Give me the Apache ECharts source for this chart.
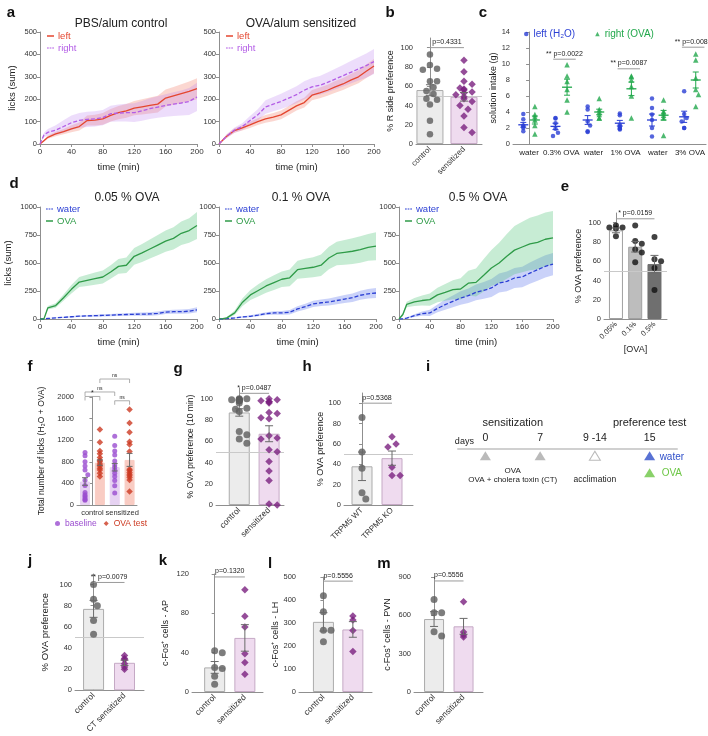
<!DOCTYPE html>
<html><head><meta charset="utf-8">
<script src="https://cdn.jsdelivr.net/npm/echarts@6.0.0/dist/echarts.min.js"></script>
<style>html,body{margin:0;padding:0;background:#fff;}#chart{width:708px;height:736px;}</style>
</head><body><div id="chart"></div>
<script>
// ================= DATA =================
const timePts = [0,5,10,20,30,40,50,60,70,80,90,100,110,120,130,140,150,160,170,180,190,200];
// a: PBS/alum control
const aCtrlLeft     = [0,15,30,45,55,68,78,105,107,112,128,140,148,160,166,172,178,205,215,225,235,247];
const aCtrlLeftSem  = [0,4,7,10,12,16,18,22,24,26,28,30,31,32,34,36,37,38,40,42,44,47];
const aCtrlRight    = [0,40,52,62,78,95,105,110,112,118,135,138,140,140,148,158,165,172,178,183,190,210];
const aCtrlRightSem = [0,10,15,22,28,32,33,34,34,34,36,38,40,42,44,46,48,50,53,56,60,63];
// a: OVA/alum sensitized
const aSensLeft     = [0,18,35,60,72,85,100,112,120,130,150,170,185,218,228,240,255,268,285,300,325,348];
const aSensLeftSem  = [0,4,8,10,12,14,15,17,18,19,20,21,22,23,24,25,26,27,28,29,30,32];
const aSensRight    = [0,18,35,62,78,105,130,165,178,190,205,220,240,255,262,275,290,305,320,335,350,368];
const aSensRightSem = [0,5,8,12,15,20,25,30,32,34,36,38,40,40,42,44,46,48,50,52,54,56];
// b
const bCats = ['control','sensitized'];
const bCtrl = [93,82,78,77,65,65,59,55,52,47,46,41,24,10];
const bSens = [87,75,65,62,58,57,56,54,53,51,49,47,44,40,36,29,17,12];
const bMean = [56,49];
const bSem  = [5.5,4.5];
// c
const cCats = ['water','0.3% OVA','water','1% OVA','water','3% OVA'];
const cLeft = [[3.75,3.1,2.3,2.2,2.0,1.6],[3.25,3.2,2.6,1.9,1.4,1.0],[4.7,4.3,2.8,2.3,1.6,1.5],[3.8,3.6,2.4,2.2,2.0,1.9,1.8],[5.7,4.5,3.7,3.0,2.0,0.95],[6.6,3.75,3.25,2.8,2.0,2.0]];
const cRight = [[4.7,3.7,3.4,3.0,2.3,1.25],[9.9,8.5,7.8,6.8,5.5,4.0],[5.7,4.3,4.0,3.7,3.25,3.25],[8.5,8.4,8.0,7.2,6.0,3.25],[5.5,4.1,3.9,3.6,3.25,1.05],[11.25,10.5,8.25,6.8,6.2,4.7]];
const cLeftMean  = [2.4,2.2,3.0,2.6,3.0,3.4];
const cLeftSem   = [0.3,0.4,0.55,0.35,0.75,0.7];
const cRightMean = [3.0,7.1,4.0,6.9,3.6,8.0];
const cRightSem  = [0.5,1.0,0.35,0.85,0.6,1.0];
const cSigText = ['** p=0.0022','** p=0.0087','** p=0.0087'];
const cSigCat  = [1,3,5];
const cSigVal  = [10.6,9.4,12.1];
// d
const dLowOva      = [0,0,100,120,190,265,330,345,360,375,420,470,480,560,590,625,660,695,720,765,790,835];
const dLowOvaSem   = [0,0,15,20,28,38,45,50,55,58,60,65,70,75,80,85,90,95,100,105,110,120];
const dLowWater    = [0,0,5,10,15,20,25,28,30,32,35,38,40,42,43,45,50,62,65,65,70,82];
const dLowWaterSem = [0,0,3,4,5,6,7,8,9,10,10,11,12,13,14,15,16,17,18,19,20,22];
const dMidOva      = [0,3,10,55,150,215,255,295,325,355,368,440,452,462,480,545,585,595,605,620,640,650];
const dMidOvaSem   = [0,2,8,20,35,45,55,60,65,70,75,80,85,90,95,100,105,110,115,118,120,125];
const dMidWater    = [0,0,3,10,18,24,35,48,54,55,60,90,110,135,145,152,165,178,190,212,225,232];
const dMidWaterSem = [0,0,3,5,7,9,11,13,15,17,20,23,26,28,30,32,34,36,38,40,42,45];
const dHighOva     = [0,40,130,152,165,173,215,238,262,268,320,327,390,455,500,560,615,643,670,685,712,725];
const dHighOvaSem  = [0,15,25,35,45,55,65,75,85,95,110,125,145,160,180,200,215,225,235,240,240,240];
const dHighWater   = [0,2,8,30,48,54,95,128,158,187,208,238,255,277,321,336,366,375,410,440,470,490];
const dHighWaterSem= [0,2,5,12,20,28,35,45,52,60,65,70,75,80,85,88,90,92,95,98,100,100];
// e
const eCats = ['0.05%','0.1%','0.5%'];
const ePts  = [[97,95,95,94,86],[97,81,78,72,69,59],[85,62,60,53,30]];
const eMean = [92,75,57];
const eSem  = [2.5,5.5,9];
// f
const fCats = ['control','sensitized'];
const fBaseCtrl = [970,910,800,720,650,560,460,360,230,190,160,130,100,90];
const fOvaCtrl  = [1400,1160,1000,950,880,830,800,760,720,680,650,590,530];
const fBaseSens = [1275,1100,1000,925,815,740,700,650,590,530,455,355,220];
const fOvaSens  = [1770,1520,1345,1170,1120,990,660,640,600,570,540,510,465,250];
const fMean = [435,785,700,835];
const fSem  = [70,50,70,120];
// g
const gCats = ['control','sensitized'];
const gCtrl = [100,100,99,99,99,99,98,98,96,91,90,88,69,66,62,58];
const gSens = [100,99,98,97,97,96,87,86,82,81,65,63,62,52,50,41,32,23,1,0];
const gMean = [87,67];
const gSem  = [3.5,7.5];
// h
const hCats = ['TRPM5 WT','TRPM5 KO'];
const hWT = [86,52,36,12,6];
const hKO = [67,60,57,37,29,29];
const hMean = [38,46];
const hSem  = [14,7];
// i timeline
const tlDays = ['0','7','9 -14','15'];
const tlInject = ['0','7'];
const tlAcclim = ['9 -14'];
const tlTest = ['15'];
// j
const jCats = ['control','CT sensitized'];
const jCtrl = [100,86,80,66,53];
const jCT   = [33,30,29,25,22,20];
const jMean = [77,26];
const jSem  = [8,2.5];
// k
const kCats = ['control','sensitized'];
const kCtrl = [42,40,25,24,16,8];
const kSens = [104,77,66,39,30,18];
const kMean = [25,55];
const kSem  = [6,13.5];
// l
const lCtrl = [418,349,269,269,219];
const lSens = [330,313,267,176];
const lMean = [305,272];
const lSem  = [40,34];
// m
const mCtrl = [724,620,620,472,438];
const mSens = [706,470,446,431];
const mMean = [571,514];
const mSem  = [58,62];

// ================= BUILD =================
const FONT = '"Liberation Sans", Arial, Helvetica, sans-serif';
const AXC = '#8f8f8f';
const TICKF = 7.5, NAMEF = 9;
const RED = '#e4462f', PURL = '#b35ce6', BLUE = '#2b3fd4', GREEN = '#2f9b48';
const GRAYPT = '#5c5c5c', PURPT = '#7b2180';
const CTRLF = '#ececec', CTRLB = '#ababab', SENSF = '#efdbef', SENSB = '#c5a9c5';
const DASH_ICON = 'path://M0 0H4V2H0Z M6 0H10V2H6Z M12 0H16V2H12Z';
const chart = echarts.init(document.getElementById('chart'));
const option = {animation:false, backgroundColor:'#fff', textStyle:{fontFamily:FONT}, grid:[], xAxis:[], yAxis:[], series:[], legend:[]};
const annos = [];
const plain = v => String(v);

function addGrid(r){ option.grid.push({left:r[0], top:r[1], width:r[2], height:r[3], containLabel:false}); return option.grid.length-1; }

function bandSeries(gi, lo, hi, color){
  return {type:'custom', xAxisIndex:gi, yAxisIndex:gi, silent:true, z:1,
    data: timePts.map((t,i)=>[t, lo[i], hi[i]]), encode:{x:0, y:[1,2]},
    renderItem:(params, api)=>{
      if (params.dataIndexInside !== 0) return null;
      const n = params.dataInsideLength;
      const top = [], bot = [];
      for (let i=0;i<n;i++){
        const t = api.value(0,i);
        top.push(api.coord([t, api.value(2,i)]));
        bot.push(api.coord([t, api.value(1,i)]));
      }
      return {type:'polygon', shape:{points:top.concat(bot.reverse())}, style:{fill:color}};
    }};
}

function bandLine(gi, L){
  const lo = L.mean.map((m,i)=>Math.max(0, m - L.sem[i]));
  const hi = L.mean.map((m,i)=>m + L.sem[i]);
  return [
    bandSeries(gi, lo, hi, L.band),
    {type:'line', name:L.name, xAxisIndex:gi, yAxisIndex:gi, symbol:'none', silent:true, z:3,
     lineStyle:{color:L.color, width:1.3, type: L.dashed ? [4,2] : 'solid'}, itemStyle:{color:L.color},
     data: timePts.map((t,i)=>[t, L.mean[i]])}
  ];
}

function timePanel(r, ymax, yint, yName, yNameGap, lines, legendLeft, legendTop){
  const gi = addGrid(r);
  option.xAxis.push({type:'value', gridIndex:gi, min:0, max:200, interval:40,
    axisLine:{lineStyle:{color:AXC}}, axisTick:{length:3, lineStyle:{color:AXC}},
    axisLabel:{fontSize:TICKF+0.5, color:'#333', margin:4, formatter:plain}, splitLine:{show:false},
    name:'time (min)', nameLocation:'middle', nameGap:18, nameTextStyle:{fontSize:9.5, color:'#222'}});
  option.yAxis.push({type:'value', gridIndex:gi, min:0, max:ymax, interval:yint,
    axisLine:{show:true, lineStyle:{color:AXC}}, axisTick:{show:true, length:3, lineStyle:{color:AXC}},
    axisLabel:{fontSize:TICKF, color:'#333', margin:3, formatter:plain}, splitLine:{show:false},
    name:yName, nameLocation:'middle', nameGap:yNameGap, nameRotate:90, nameTextStyle:{fontSize:9.5, color:'#222'}});
  lines.forEach(L => option.series.push(...bandLine(gi, L)));
  option.legend.push({orient:'vertical', left:legendLeft, top:legendTop, itemWidth:7, itemHeight:1.5, itemGap:2, padding:0,
    selectedMode:false, textStyle:{fontSize:9.5, fontFamily:FONT, padding:[0,0,0,-1]},
    data: lines.map(L => ({name:L.name, icon: L.dashed ? DASH_ICON : 'rect', textStyle:{color:L.color}}))});
  return gi;
}

function swarm(vals, cx, pxY, pxX, d, maxOff){
  const idx = vals.map((v,i)=>i).sort((a,b)=>vals[b]-vals[a]);
  const placed = [], out = new Array(vals.length);
  for (const i of idx){
    const yp = vals[i]*pxY;
    let best = 0;
    for (let k=0;k<60;k++){
      const s = k===0 ? 0 : (k%2 ? 1 : -1)*Math.ceil(k/2)*d*0.5;
      if (maxOff !== undefined && Math.abs(s) > maxOff) continue;
      if (placed.every(p => (p[0]-s)*(p[0]-s) + (p[1]-yp)*(p[1]-yp) >= d*d*0.85)) { best = s; break; }
    }
    placed.push([best, yp]);
    out[i] = [cx + best/pxX, vals[i]];
  }
  return out;
}

function errSeries(gi, xs, means, sems, color, cap, halfMean){
  return {type:'custom', xAxisIndex:gi, yAxisIndex:gi, z:5, silent:true, clip:false,
    data: xs.map((x,i)=>[x, means[i], sems[i]]), encode:{x:0, y:1},
    renderItem:(params, api)=>{
      const x = api.value(0), m = api.value(1), s = api.value(2);
      const top = api.coord([x, m+s]), bot = api.coord([x, m-s]), mid = api.coord([x, m]);
      const st = {stroke:color, lineWidth:1, fill:null};
      const ch = [
        {type:'line', shape:{x1:top[0], y1:top[1], x2:bot[0], y2:bot[1]}, style:st},
        {type:'line', shape:{x1:top[0]-cap, y1:top[1], x2:top[0]+cap, y2:top[1]}, style:st},
        {type:'line', shape:{x1:bot[0]-cap, y1:bot[1], x2:bot[0]+cap, y2:bot[1]}, style:st}];
      if (halfMean) ch.push({type:'line', shape:{x1:mid[0]-halfMean, y1:mid[1], x2:mid[0]+halfMean, y2:mid[1]}, style:{stroke:color, lineWidth:1.3}});
      return {type:'group', children:ch};
    }};
}

function barPanel(o){
  const gi = addGrid(o.rect);
  const [l,t,w,h] = o.rect;
  const pxX = w/(o.xr[1]-o.xr[0]), pxY = h/(o.yr[1]-o.yr[0]);
  option.xAxis.push({type:'value', gridIndex:gi, min:o.xr[0], max:o.xr[1],
    axisLine:{show:true, lineStyle:{color:AXC}}, axisTick:{show:false}, splitLine:{show:false},
    axisLabel:{customValues:o.cats.map((c,i)=>i), formatter:v=>o.cats[Math.round(v)]||'', rotate:(o.rotate===undefined?45:o.rotate),
      fontSize:o.catFont||8, color:'#333', margin:o.catMargin||4, hideOverlap:false},
    name:o.xName||'', nameLocation:'middle', nameGap:o.xNameGap||25, nameTextStyle:{fontSize:NAMEF, color:'#222'}});
  option.yAxis.push({type:'value', gridIndex:gi, min:o.yr[0], max:o.yr[1],
    axisLine:{show:true, lineStyle:{color:AXC}}, axisTick:{show:true, length:3, lineStyle:{color:AXC}, customValues:o.yTicks},
    splitLine:{show:false}, axisLabel:{customValues:o.yTicks, fontSize:TICKF, color:'#333', margin:3, formatter:plain},
    name:o.yName, nameLocation:'middle', nameGap:o.yNameGap, nameRotate:90, nameTextStyle:{fontSize:o.yNameSize||NAMEF, color:'#222'}});
  const bs = {type:'bar', xAxisIndex:gi, yAxisIndex:gi, barWidth:o.barWidth, silent:true, z:1,
    data:o.bars.map(b=>({value:[b.x, b.mean], itemStyle:{color:b.fill, borderColor:b.border, borderWidth:1}}))};
  if (o.ref !== undefined) bs.markLine = {silent:true, symbol:'none', label:{show:false}, z:2,
    lineStyle:{color:'#c9c9c9', width:1, type:'solid'}, data:[{yAxis:o.ref}]};
  option.series.push(bs);
  option.series.push(errSeries(gi, o.bars.map(b=>b.x), o.bars.map(b=>b.mean), o.bars.map(b=>b.sem), o.errColor||'#6a6a6a', o.cap||4, 0));
  o.groups.forEach(g => option.series.push({type:'scatter', name:g.name, xAxisIndex:gi, yAxisIndex:gi, symbol:g.symbol,
    symbolSize:g.size, itemStyle:{color:g.color}, z:4, silent:true,
    data:swarm(g.vals, g.x, pxY, pxX, g.size+0.6, g.maxOff)}));
  if (o.sig) annos.push(Object.assign({gi}, o.sig));
  return gi;
}

// ---- a ----
timePanel([40,32,157,112], 500, 100, 'licks (sum)', 23, [
  {name:'left', mean:aCtrlLeft, sem:aCtrlLeftSem, color:RED, band:'rgba(240,110,90,0.28)', dashed:false},
  {name:'right', mean:aCtrlRight, sem:aCtrlRightSem, color:PURL, band:'rgba(185,120,240,0.25)', dashed:true}], 47, 31);
timePanel([219,32,155,112], 500, 100, '', 23, [
  {name:'left', mean:aSensLeft, sem:aSensLeftSem, color:RED, band:'rgba(240,110,90,0.28)', dashed:false},
  {name:'right', mean:aSensRight, sem:aSensRightSem, color:PURL, band:'rgba(185,120,240,0.25)', dashed:true}], 226, 31);

// ---- b ----
barPanel({rect:[416,38,66,106], xr:[-0.41,1.53], yr:[0,110], yTicks:[0,20,40,60,80,100], cats:bCats,
  yName:'% R side preference', yNameGap:21, barWidth:27, ref:50,
  bars:[{x:0, mean:bMean[0], sem:bSem[0], fill:CTRLF, border:CTRLB},{x:1, mean:bMean[1], sem:bSem[1], fill:SENSF, border:SENSB}],
  groups:[{name:'b_ctrl', x:0, vals:bCtrl, color:GRAYPT, symbol:'circle', size:6.5, maxOff:11},
          {name:'b_sens', x:1, vals:bSens, color:PURPT, symbol:'diamond', size:7.5, maxOff:11}],
  sig:{x1:0, x2:1, y:100, text:'p=0.4331'}});

// ---- c ----
(function(){
  const r = [513,32,194,112];
  const gi = addGrid(r);
  const pxX = r[2]/6, pxY = r[3]/14;
  option.xAxis.push({type:'value', gridIndex:gi, min:-0.5, max:5.5,
    axisLine:{show:true, lineStyle:{color:AXC}}, axisTick:{show:false}, splitLine:{show:false},
    axisLabel:{customValues:cCats.map((c,i)=>i), formatter:v=>cCats[Math.round(v)]||'', fontSize:8, color:'#222', margin:5, hideOverlap:false}});
  option.yAxis.push({type:'value', gridIndex:gi, min:0, max:14, interval:2,
    axisLine:{show:true, lineStyle:{color:AXC}}, axisTick:{show:true, length:3, lineStyle:{color:AXC}},
    splitLine:{show:false}, axisLabel:{fontSize:TICKF, color:'#333', margin:3, formatter:plain},
    name:'solution intake (g)', nameLocation:'middle', nameGap:15, nameRotate:90, nameTextStyle:{fontSize:NAMEF, color:'#222'}});
  const OFF = 0.18;
  let leftPts = [], rightPts = [];
  cLeft.forEach((vals,i)=>{ leftPts = leftPts.concat(swarm(vals, i-OFF, pxY, pxX, 5, 4)); });
  cRight.forEach((vals,i)=>{ rightPts = rightPts.concat(swarm(vals, i+OFF, pxY, pxX, 5.5, 4)); });
  option.series.push({type:'scatter', name:'left (H\u2082O)', xAxisIndex:gi, yAxisIndex:gi, symbol:'circle', symbolSize:4.5, itemStyle:{color:BLUE}, z:4, silent:true, data:leftPts});
  option.series.push({type:'scatter', name:'right (OVA)', xAxisIndex:gi, yAxisIndex:gi, symbol:'triangle', symbolSize:5.5, itemStyle:{color:'#22a84c'}, z:4, silent:true, data:rightPts});
  option.series.push(errSeries(gi, cCats.map((c,i)=>i-OFF), cLeftMean, cLeftSem, BLUE, 3, 5));
  option.series.push(errSeries(gi, cCats.map((c,i)=>i+OFF), cRightMean, cRightSem, '#22a84c', 3, 5));
  cSigCat.forEach((ci,k)=>annos.push({gi, x1:ci-0.25, x2:ci+0.45, y:cSigVal[k], text:cSigText[k], size:7}));
  option.legend.push({orient:'horizontal', left:524, top:29, itemWidth:4.5, itemHeight:4.5, itemGap:20, padding:0, selectedMode:false,
    textStyle:{fontSize:10, fontFamily:FONT},
    data:[{name:'left (H\u2082O)', textStyle:{color:BLUE}}, {name:'right (OVA)', textStyle:{color:'#22a84c'}}]});
})();

// ---- d ----
const dWaterBand = 'rgba(90,115,235,0.32)', dOvaBand = 'rgba(80,195,120,0.32)';
timePanel([40,207,157,112], 1000, 250, 'licks (sum)', 27, [
  {name:'water', mean:dLowWater, sem:dLowWaterSem, color:BLUE, band:dWaterBand, dashed:true},
  {name:'OVA', mean:dLowOva, sem:dLowOvaSem, color:GREEN, band:dOvaBand, dashed:false}], 46, 204);
timePanel([219,207,157,112], 1000, 250, '', 27, [
  {name:'water', mean:dMidWater, sem:dMidWaterSem, color:BLUE, band:dWaterBand, dashed:true},
  {name:'OVA', mean:dMidOva, sem:dMidOvaSem, color:GREEN, band:dOvaBand, dashed:false}], 225, 204);
timePanel([399,207,154,112], 1000, 250, '', 27, [
  {name:'water', mean:dHighWater, sem:dHighWaterSem, color:BLUE, band:dWaterBand, dashed:true},
  {name:'OVA', mean:dHighOva, sem:dHighOvaSem, color:GREEN, band:dOvaBand, dashed:false}], 405, 204);

// ---- e ----
barPanel({rect:[604,213,63,106], xr:[-0.62,2.65], yr:[0,110], yTicks:[0,20,40,60,80,100], cats:eCats,
  yName:'% OVA preference', yNameGap:21, barWidth:14, ref:50, xName:'[OVA]', xNameGap:26, catFont:7.5,
  bars:[{x:0, mean:eMean[0], sem:eSem[0], fill:'#ffffff', border:'#a0a0a0'},
        {x:1, mean:eMean[1], sem:eSem[1], fill:'#bdbdbd', border:'#a0a0a0'},
        {x:2, mean:eMean[2], sem:eSem[2], fill:'#6f6f6f', border:'#6f6f6f'}],
  groups:ePts.map((v,i)=>({name:'e_'+i, x:i, vals:v, color:'#111', symbol:'circle', size:6, maxOff:7})),
  sig:{x1:0, x2:2, y:104, text:'* p=0.0159'}});

// ---- f ----
barPanel({rect:[77,397,60,108], xr:[-0.52,1.5], yr:[0,2000], yTicks:[0,400,800,1200,1600,2000], cats:fCats,
  yName:'Total number of licks (H\u2082O + OVA)', yNameGap:31, yNameSize:8.5, barWidth:10, rotate:0, catFont:7.5,
  bars:[{x:-0.25, mean:fMean[0], sem:fSem[0], fill:'#e6d2f2', border:'#e6d2f2'},
        {x:0.25, mean:fMean[1], sem:fSem[1], fill:'#f9ccc3', border:'#f9ccc3'},
        {x:0.75, mean:fMean[2], sem:fSem[2], fill:'#e6d2f2', border:'#e6d2f2'},
        {x:1.25, mean:fMean[3], sem:fSem[3], fill:'#f9ccc3', border:'#f9ccc3'}],
  cap:3,
  groups:[{name:'baseline', x:-0.25, vals:fBaseCtrl, color:'#9a4ccf', symbol:'circle', size:5, maxOff:3},
          {name:'OVA test', x:0.25, vals:fOvaCtrl, color:'#cc3a22', symbol:'diamond', size:6.5, maxOff:3},
          {name:'baseline', x:0.75, vals:fBaseSens, color:'#9a4ccf', symbol:'circle', size:5, maxOff:3},
          {name:'OVA test', x:1.25, vals:fOvaSens, color:'#cc3a22', symbol:'diamond', size:6.5, maxOff:3}]});
const fGi = option.grid.length-1;
annos.push({gi:fGi, x1:0.25, x2:1.25, y:2333, text:'ns', size:5, bracket:true});
annos.push({gi:fGi, x1:-0.25, x2:0.75, y:2093, text:'ns', size:5, bracket:true});
annos.push({gi:fGi, x1:-0.25, x2:0.25, y:2010, text:'*', size:7, bracket:true});
annos.push({gi:fGi, x1:0.75, x2:1.25, y:1930, text:'ns', size:5, bracket:true});
option.legend.push({orient:'horizontal', left:55, top:519, itemWidth:5, itemHeight:5, itemGap:7, padding:0, selectedMode:false,
  textStyle:{fontSize:8.5, fontFamily:FONT},
  data:[{name:'baseline', textStyle:{color:'#9a4ccf'}}, {name:'OVA test', textStyle:{color:'#cc3a22'}}]});

// ---- g ----
barPanel({rect:[216,388,68,117], xr:[-0.78,1.5], yr:[0,110], yTicks:[0,20,40,60,80,100], cats:gCats,
  yName:'% OVA preference (10 min)', yNameGap:21, yNameSize:8.5, barWidth:21, ref:50, catFont:8.5,
  bars:[{x:0, mean:gMean[0], sem:gSem[0], fill:CTRLF, border:CTRLB},{x:1, mean:gMean[1], sem:gSem[1], fill:SENSF, border:SENSB}],
  groups:[{name:'g_ctrl', x:0, vals:gCtrl, color:GRAYPT, symbol:'circle', size:7, maxOff:11},
          {name:'g_sens', x:1, vals:gSens, color:PURPT, symbol:'diamond', size:7.5, maxOff:11}],
  sig:{x1:0, x2:1, y:105, text:'* p=0.0487'}});

// ---- h ----
barPanel({rect:[344,393,69,112], xr:[-0.6,1.7], yr:[0,110], yTicks:[0,20,40,60,80,100], cats:hCats,
  yName:'% OVA preference', yNameGap:19, barWidth:21, ref:50,
  bars:[{x:0, mean:hMean[0], sem:hSem[0], fill:CTRLF, border:CTRLB},{x:1, mean:hMean[1], sem:hSem[1], fill:SENSF, border:SENSB}],
  groups:[{name:'h_wt', x:0, vals:hWT, color:GRAYPT, symbol:'circle', size:7, maxOff:10},
          {name:'h_ko', x:1, vals:hKO, color:PURPT, symbol:'diamond', size:7.5, maxOff:10}],
  sig:{x1:0, x2:1, y:100, text:'p=0.5368'}});

// ---- i (timeline) ----
const ROW1 = 0.4, ROW2 = 1.4;
const tlGi = addGrid([458,449,219,51]);
option.xAxis.push({type:'category', gridIndex:tlGi, data:tlDays, position:'top',
  axisLine:{lineStyle:{color:'#d0d0d0', width:2}}, axisTick:{show:false}, splitLine:{show:false},
  axisLabel:{fontSize:10.5, color:'#222', margin:5}});
option.yAxis.push({type:'value', gridIndex:tlGi, min:0, max:3, inverse:true, show:false});
option.series.push({type:'scatter', name:'tl_inject', xAxisIndex:tlGi, yAxisIndex:tlGi, symbol:'triangle', symbolSize:[11,9], silent:true,
  itemStyle:{color:'#a9a9a9'}, data:tlInject.map(d=>[d, ROW1])});
option.series.push({type:'scatter', name:'tl_acclim', xAxisIndex:tlGi, yAxisIndex:tlGi, symbol:'triangle', symbolSize:[11,9], silent:true,
  itemStyle:{color:'#ffffff', borderColor:'#a9a9a9', borderWidth:1}, data:tlAcclim.map(d=>[d, ROW1])});
option.series.push({type:'scatter', name:'tl_water', xAxisIndex:tlGi, yAxisIndex:tlGi, symbol:'triangle', symbolSize:[11,9], silent:true,
  itemStyle:{color:'#2f4fc9'}, data:tlTest.map(d=>[d, ROW1])});
option.series.push({type:'scatter', name:'tl_ova', xAxisIndex:tlGi, yAxisIndex:tlGi, symbol:'triangle', symbolSize:[11,9], silent:true,
  itemStyle:{color:'#6cc644'}, data:tlTest.map(d=>[d, ROW2])});

// ---- j ----
barPanel({rect:[75,574,69,118], xr:[-0.6,1.63], yr:[0,110], yTicks:[0,20,40,60,80,100], cats:jCats,
  yName:'% OVA preference', yNameGap:25, yNameSize:9.5, barWidth:21, ref:50, catFont:8.5,
  bars:[{x:0, mean:jMean[0], sem:jSem[0], fill:CTRLF, border:CTRLB},{x:1, mean:jMean[1], sem:jSem[1], fill:SENSF, border:SENSB}],
  groups:[{name:'j_ctrl', x:0, vals:jCtrl, color:GRAYPT, symbol:'circle', size:7, maxOff:10},
          {name:'j_ct', x:1, vals:jCT, color:PURPT, symbol:'diamond', size:7.5, maxOff:8}],
  sig:{x1:0, x2:1, y:102, text:'** p=0.0079'}});

// ---- k ----
barPanel({rect:[192,574,71,118], xr:[-0.75,1.6], yr:[0,120], yTicks:[0,40,80,120], cats:kCats,
  yName:'c-Fos\u207A cells - AP', yNameGap:22, barWidth:21, catFont:8.5,
  bars:[{x:0, mean:kMean[0], sem:kSem[0], fill:CTRLF, border:CTRLB},{x:1, mean:kMean[1], sem:kSem[1], fill:SENSF, border:SENSB}],
  groups:[{name:'k_ctrl', x:0, vals:kCtrl, color:GRAYPT, symbol:'circle', size:7, maxOff:8},
          {name:'k_sens', x:1, vals:kSens, color:PURPT, symbol:'diamond', size:7.5, maxOff:8}],
  sig:{x1:0, x2:1, y:117, text:'p=0.1320'}});

// ---- l ----
barPanel({rect:[299,577,73,115], xr:[-0.83,1.65], yr:[0,500], yTicks:[0,100,200,300,400,500], cats:kCats,
  yName:'c-Fos\u207A cells - LH', yNameGap:19, barWidth:21, catFont:8.5,
  bars:[{x:0, mean:lMean[0], sem:lSem[0], fill:CTRLF, border:CTRLB},{x:1, mean:lMean[1], sem:lSem[1], fill:SENSF, border:SENSB}],
  groups:[{name:'l_ctrl', x:0, vals:lCtrl, color:GRAYPT, symbol:'circle', size:7, maxOff:8},
          {name:'l_sens', x:1, vals:lSens, color:PURPT, symbol:'diamond', size:7.5, maxOff:8}],
  sig:{x1:0, x2:1, y:482, text:'p=0.5556'}});

// ---- m ----
barPanel({rect:[414,577,69,115], xr:[-0.68,1.66], yr:[0,900], yTicks:[0,300,600,900], cats:kCats,
  yName:'c-Fos\u207A cells - PVN', yNameGap:22, barWidth:20, catFont:8.5,
  bars:[{x:0, mean:mMean[0], sem:mSem[0], fill:CTRLF, border:CTRLB},{x:1, mean:mMean[1], sem:mSem[1], fill:SENSF, border:SENSB}],
  groups:[{name:'m_ctrl', x:0, vals:mCtrl, color:GRAYPT, symbol:'circle', size:7, maxOff:8},
          {name:'m_sens', x:1, vals:mSens, color:PURPT, symbol:'diamond', size:7.5, maxOff:8}],
  sig:{x1:0, x2:1, y:869, text:'p=0.5556'}});

chart.setOption(option);

// ================= ANNOTATIONS =================
function txt(text, x, y, size, o){
  o = o || {};
  return {type:'text', x:x, y:y, silent:true, z:100, style:{text:text, fontSize:size, fontFamily:FONT,
    fontWeight:o.bold?'bold':'normal', fill:o.color||'#222', align:o.align||'center', verticalAlign:o.va||'middle'}};
}
const G = [];
annos.forEach(a=>{
  const p1 = chart.convertToPixel({gridIndex:a.gi}, [a.x1, a.y]);
  const p2 = chart.convertToPixel({gridIndex:a.gi}, [a.x2, a.y]);
  if (a.bracket){
    G.push({type:'polyline', silent:true, z:100, shape:{points:[[p1[0],p1[1]+4],[p1[0],p1[1]],[p2[0],p2[1]],[p2[0],p2[1]+4]]},
      style:{stroke:'#999', lineWidth:0.8, fill:null}});
    G.push(txt(a.text, (p1[0]+p2[0])/2, p1[1]-3, a.size||5, {}));
  } else {
    G.push({type:'line', silent:true, z:100, shape:{x1:p1[0], y1:p1[1], x2:p2[0], y2:p2[1]}, style:{stroke:'#9a9a9a', lineWidth:1}});
    G.push(txt(a.text, (p1[0]+p2[0])/2, p1[1]-5.5, a.size||7, {}));
  }
});
// timeline labels
const tp = tlDays.map((d,i)=>chart.convertToPixel({gridIndex:tlGi}, [i, ROW1]));
const tp2 = chart.convertToPixel({gridIndex:tlGi}, [3, ROW2]);
const tlLineY = chart.convertToPixel({gridIndex:tlGi}, [0, 0])[1];
G.push(txt('days', tp[0][0]-21, tlLineY-7.5, 9, {}));
G.push(txt('sensitization', (tp[0][0]+tp[1][0])/2, tlLineY-26, 11, {}));
G.push(txt('preference test', tp[3][0], tlLineY-26, 11, {}));
G.push(txt('OVA', (tp[0][0]+tp[1][0])/2, tlLineY+22, 8, {}));
G.push(txt('OVA + cholera toxin (CT)', (tp[0][0]+tp[1][0])/2, tlLineY+30.5, 8, {}));
G.push(txt('acclimation', tp[2][0], tlLineY+30.5, 8.5, {}));
G.push(txt('water', tp[3][0]+10, tp[0][1]+1, 10, {align:'left', color:'#2f4fc9'}));
G.push(txt('OVA', tp[3][0]+12, tp2[1], 10, {align:'left', color:'#6cc644'}));
// titles
G.push(txt('PBS/alum control', 121, 24, 12, {}));
G.push(txt('OVA/alum sensitized', 301, 24, 12, {}));
G.push(txt('0.05 % OVA', 127, 198, 12, {}));
G.push(txt('0.1 % OVA', 301, 198, 12, {}));
G.push(txt('0.5 % OVA', 478, 198, 12, {}));
// panel letters
[['a',11,13],['b',390,13],['c',483,13],['d',14,184],['e',565,187],['f',30,367],['g',178,369],['h',307,367],['i',428,367],
 ['j',30,561],['k',163,561],['l',270,564],['m',384,564]].forEach(L=>G.push(txt(L[0], L[1], L[2], 15, {bold:true, color:'#111'})));
chart.setOption({graphic:G});
</script></body></html>
